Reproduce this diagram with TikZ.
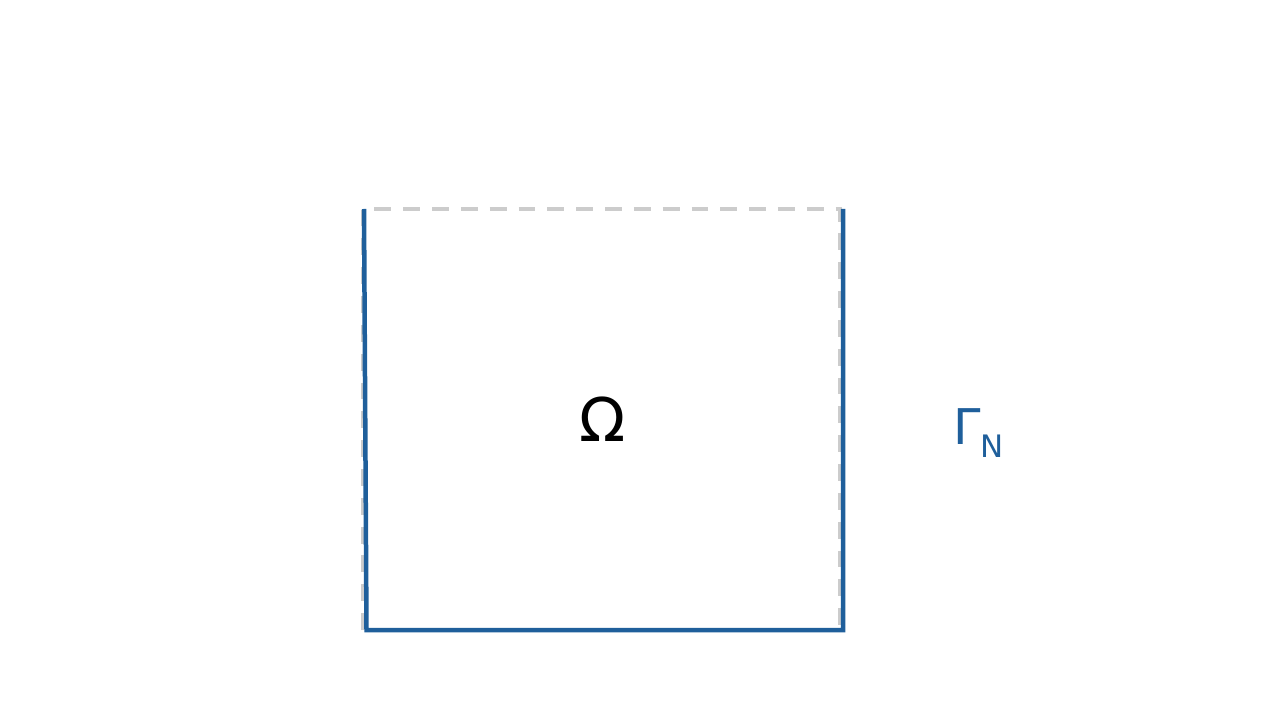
\documentclass[tikz,border=0pt]{standalone}
\usepackage{fontspec}
\setmainfont{DejaVu Sans}
\usepackage{tikz}
\usetikzlibrary{positioning}
\definecolor{bdblue}{RGB}{31,95,155}
\definecolor{bdgray}{RGB}{204,204,204}
\tikzset{hiddenedge/.style = {draw=bdgray, line width=2.8pt, dash pattern=on 12pt off 8.5pt},
         neumann/.style = {draw=bdblue, line width=3.2pt}}

\begin{document}
\begin{tikzpicture}[x=0.025cm, y=-0.025cm]
    \useasboundingbox (0, 0) rectangle (1280, 720);

    \draw [hiddenedge] (363, 630) -- (363, 209) -- (840, 209) -- (840, 630);
    \draw [neumann] (364, 209) -- (366.5, 630) -- (843, 630) -- (843, 209);

    \node (omega) at (603, 419) {\fontsize{43}{48}\selectfont \char"03A9};
    \node [text=bdblue, anchor=west, inner sep=0pt] (gammaN) at (953, 433)
        {\fontsize{35}{40}\selectfont \char"0393\raisebox{-0.25em}{\fontsize{22}{26}\selectfont N}};
\end{tikzpicture}
\end{document}
